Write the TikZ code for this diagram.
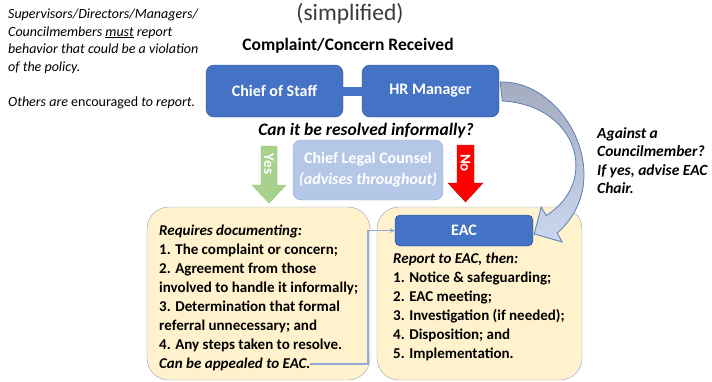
\documentclass[tikz,border=0pt]{standalone}
\usepackage{fontspec}
\setmainfont{Carlito}
\usepackage{tikz}
\usetikzlibrary{arrows.meta}

\definecolor{flowblue}{HTML}{4472C4}
\definecolor{flowedge}{HTML}{2F528F}
\definecolor{paleblue}{HTML}{B4C7E7}
\definecolor{paleedge}{HTML}{8FAADC}
\definecolor{noteyellow}{HTML}{FFF2CC}
\definecolor{noteedge}{HTML}{8EA2C4}
\definecolor{yesgreen}{HTML}{A9D18E}
\definecolor{yesedge}{HTML}{8DBF6A}
\definecolor{noedge}{HTML}{C00000}
\definecolor{curvetop}{HTML}{A3ACBE}
\definecolor{curvebot}{HTML}{C9D7EF}
\definecolor{curveedge}{HTML}{5B7DB8}
\definecolor{titlegray}{HTML}{3A3A3A}

\tikzset{
  bluebox/.style={draw=flowedge, fill=flowblue, rounded corners=8pt, inner sep=0pt,
    text=white, font=\bfseries\fontsize{16}{19}\selectfont},
  yellowbox/.style={draw=noteedge, fill=noteyellow, rounded corners=22pt, inner sep=0pt,
    minimum height=173pt},
  itemtxt/.style={anchor=base west, inner sep=0pt, font=\bfseries\fontsize{15}{19}\selectfont},
  notetxt/.style={anchor=base west, inner sep=0pt, font=\itshape\fontsize{14}{17}\selectfont},
  asktxt/.style={anchor=base west, inner sep=0pt, font=\bfseries\itshape\fontsize{15.5}{18}\selectfont},
  arrowtxt/.style={rotate=-90, inner sep=0pt, text=white, font=\bfseries\fontsize{15}{15}\selectfont}
}

\begin{document}
\begin{tikzpicture}[x=1pt,y=-1pt]
\useasboundingbox (0,0) rectangle (712,381);
% headings
\node[anchor=base, inner sep=0pt, text=titlegray, font=\fontsize{23.5}{24}\selectfont] (title) at (350,20.5) {(simplified)};
\node[anchor=base, inner sep=0pt, font=\bfseries\fontsize{17.5}{20}\selectfont] (recv) at (348,50.5) {Complaint/Concern Received};
\node[anchor=base, inner sep=0pt, font=\bfseries\itshape\fontsize{17.5}{20}\selectfont] (ask) at (366,135) {Can it be resolved informally?};
% side notes
\node[notetxt] (note1) at (8,18.5) {Supervisors/Directors/Managers/};
\node[notetxt] (note2) at (8,36) {Councilmembers \underline{must} report};
\node[notetxt] (note3) at (8,53.5) {behavior that could be a violation};
\node[notetxt] (note4) at (8,71) {of the policy.};
\node[notetxt] (note5) at (8,106) {Others are \textup{encouraged} to report.};
\node[asktxt] (cm1) at (597,138) {Against a};
\node[asktxt] (cm2) at (597,156.5) {Councilmember?};
\node[asktxt] (cm3) at (597,175) {If yes, advise EAC};
\node[asktxt] (cm4) at (597,193.5) {Chair.};
% top boxes
\node[bluebox, minimum width=137pt, minimum height=52pt] (cos) at (274.5,91) {Chief of Staff};
\node[bluebox, minimum width=137pt, minimum height=52pt] (hrm) at (430.5,91) {HR Manager};
\draw[flowblue, line width=9pt] (cos.east) -- (hrm.west);
\node[draw=paleedge, fill=paleblue, rounded corners=8pt, minimum width=150pt, minimum height=60pt,
  inner sep=0pt, align=center, text=white, font=\bfseries\fontsize{16}{21}\selectfont] (clc) at (368,170)
  {Chief Legal Counsel\\\textit{(advises throughout)}};
% yes / no
\draw[yesedge, fill=yesgreen] (261,146) -- (277,146) -- (277,185) -- (286,185) -- (269,203) -- (252,185) -- (261,185) -- cycle;
\node[arrowtxt] (yes) at (269,164) {Yes};
\draw[noedge, fill=red] (457,145) -- (474,145) -- (474,183) -- (483,183) -- (465.5,202) -- (448,183) -- (457,183) -- cycle;
\node[arrowtxt] (no) at (465.5,163) {No};
% bottom boxes
\node[yellowbox, minimum width=223pt] (informal) at (258.5,293.5) {};
\node[yellowbox, minimum width=205pt] (formal) at (479.5,293.5) {};
\node[bluebox, rounded corners=5pt, minimum width=138pt, minimum height=31pt] (eac) at (464,230.5) {EAC};
\node[itemtxt] (doc1) at (159,235) {\textit{Requires documenting:}};
\node[itemtxt] (doc2) at (159,254) {1. The complaint or concern;};
\node[itemtxt] (doc3) at (159,273) {2. Agreement from those};
\node[itemtxt] (doc4) at (159,292) {involved to handle it informally;};
\node[itemtxt] (doc5) at (159,311) {3. Determination that formal};
\node[itemtxt] (doc6) at (159,330) {referral unnecessary; and};
\node[itemtxt] (doc7) at (159,349) {4. Any steps taken to resolve.};
\node[itemtxt] (appeal) at (159,368) {\textit{Can be appealed to EAC.}};
\node[itemtxt] (rep1) at (393,263) {\textit{Report to EAC, then:}};
\node[itemtxt] (rep2) at (393,282) {1. Notice \& safeguarding;};
\node[itemtxt] (rep3) at (393,301) {2. EAC meeting;};
\node[itemtxt] (rep4) at (393,320) {3. Investigation (if needed);};
\node[itemtxt] (rep5) at (393,339) {4. Disposition; and};
\node[itemtxt] (rep6) at (393,358) {5. Implementation.};
% connectors
\coordinate (bend) at (368,300);
\draw[paleedge, line width=1.5pt, -{Stealth[length=5pt,width=5pt]}] (appeal.east) -| (bend) |- (eac.west);
\shade[top color=curvetop, bottom color=curvebot, draw=curveedge, line width=0.8pt]
  ([shift={(1,-9)}]hrm.east) .. controls (565,80) and (618,180) .. ([shift={(24,2.5)}]eac.east)
  -- ([shift={(29,11.5)}]eac.east) -- ([shift={(1,3.5)}]eac.east) -- ([shift={(8,-23.5)}]eac.east)
  -- ([shift={(13,-15)}]eac.east) .. controls (600,182) and (578,105) .. ([shift={(3,10)}]hrm.east) -- cycle;
\end{tikzpicture}
\end{document}
